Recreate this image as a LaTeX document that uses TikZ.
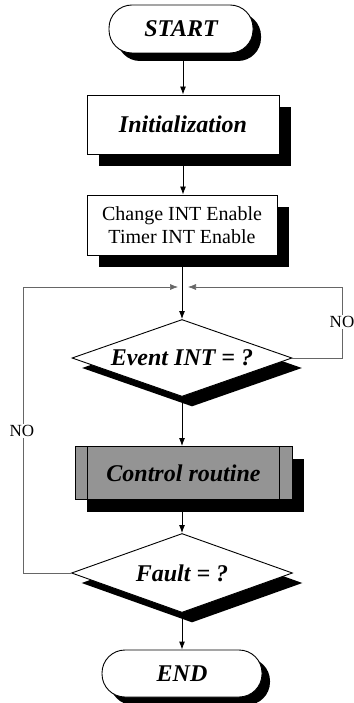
\documentclass[tikz,border=0pt]{standalone}
\usepackage{fontspec}
\setmainfont{Liberation Serif}
\usetikzlibrary{shapes.geometric,shadows,arrows.meta}
\tikzset{
  bi/.style={font=\fontsize{24}{26}\selectfont\bfseries\itshape},
  oval/.style={draw=black, line width=0.9pt, fill=white, rounded corners=23pt, inner sep=0pt, bi,
     drop shadow={opacity=1, fill=black, shadow xshift=8pt, shadow yshift=-8pt}},
  boxnode/.style={draw=black, line width=0.9pt, fill=white, inner sep=0pt,
     drop shadow={opacity=1, fill=black, shadow xshift=12pt, shadow yshift=-12pt}},
  decision/.style={diamond, draw=black, line width=0.9pt, fill=white, inner sep=0pt, aspect=2.85, bi,
     drop shadow={opacity=1, fill=black, shadow xshift=10pt, shadow yshift=-10pt}},
  arr/.style={line width=0.9pt, -{Latex[length=8pt,width=6pt]}},
  loopline/.style={black!60, line width=0.6pt, -{Latex[length=8pt,width=6pt]}},
  nolabel/.style={fill=white, inner sep=1pt, text=black, font=\fontsize{17}{19}\selectfont}
}
\begin{document}
\begin{tikzpicture}[x=1pt,y=-1pt]
\useasboundingbox (0,0) rectangle (353,703);
\node[oval, minimum width=144pt, minimum height=48pt] (start) at (181,29) {START};
\node[boxnode, bi, minimum width=192pt, minimum height=59pt] (init) at (183,124.5) {Initialization};
\node[boxnode, minimum width=190pt, minimum height=60pt, align=center,
      font=\fontsize{20}{23}\selectfont] (chg) at (182,225) {Change INT Enable\\Timer INT Enable};
\node[decision, minimum width=220pt, minimum height=77pt] (evt) at (182,358) {Event INT = ?};
\node[boxnode, bi, fill=black!42, minimum width=217pt, minimum height=53pt] (ctrl) at (183.5,473) {Control routine};
\draw[line width=0.9pt] ([xshift=13pt]ctrl.north west) -- ([xshift=13pt]ctrl.south west);
\draw[line width=0.9pt] ([xshift=-13pt]ctrl.north east) -- ([xshift=-13pt]ctrl.south east);
\node[decision, minimum width=221pt, minimum height=79pt] (fault) at (182,573) {Fault = ?};
\node[oval, minimum width=160pt, minimum height=47pt] (end) at (182,673.5) {END};

\coordinate (ml) at (178,287);
\coordinate (mr) at (188,287);
\coordinate (lx) at (23,287);
\coordinate (rx) at (342,287);

\draw[arr] (start.south -| init.north) -- (init.north);
\draw[arr] (init.south) -- (init.south |- chg.north);
\draw[arr] (chg.south -| evt.north) -- (evt.north);
\draw[arr] (evt.south) -- (evt.south |- ctrl.north);
\draw[arr] (ctrl.south -| fault.north) -- (fault.north);
\draw[arr] (fault.south) -- (end.north);

\draw[loopline] (evt.east) -| (rx) -- (mr);
\draw[loopline] (fault.west) -| (lx) -- (ml);
\node[nolabel] (no1) at (342,322) {NO};
\node[nolabel] (no2) at (22,431) {NO};
\end{tikzpicture}
\end{document}
